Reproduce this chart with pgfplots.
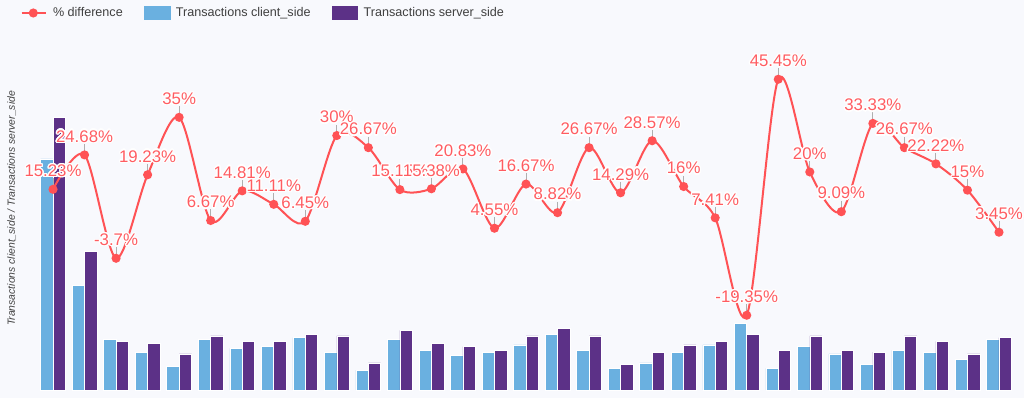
\documentclass[border=0pt]{standalone}
\usepackage{fontspec}
\setmainfont{Liberation Sans}
\usepackage{pgfplots}
\pgfplotsset{compat=1.18}
\usepackage{pgfplotstable}
\usepackage[copies]{contour}
\contourlength{1.3pt}
\contournumber{20}
\definecolor{bg}{RGB}{248,249,253}
\definecolor{cblue}{RGB}{106,176,224}
\definecolor{spurple}{RGB}{92,49,135}
\definecolor{lred}{RGB}{255,82,85}
\definecolor{tred}{RGB}{255,92,97}
\definecolor{legtext}{RGB}{64,64,64}
\definecolor{tickgray}{RGB}{175,175,175}
\pgfdeclareplotmark{vtick}{%
  \pgfpathmoveto{\pgfqpoint{0pt}{4pt}}%
  \pgfpathlineto{\pgfqpoint{0pt}{11pt}}%
  \pgfusepathqstroke}
\pgfplotstableread{
x c s p
0 128 151 15.23
1 58 77 24.68
2 28 27 -3.7
3 21 26 19.23
4 13 20 35
5 28 30 6.67
6 23 27 14.81
7 24 27 11.11
8 29 31 6.45
9 21 30 30
10 11 15 26.67
11 28 33 15.15
12 22 26 15.38
13 19 24 20.83
14 21 22 4.55
15 25 30 16.67
16 31 34 8.82
17 22 30 26.67
18 12 14 14.29
19 15 21 28.57
20 21 25 16
21 25 27 7.41
22 37 31 -19.35
23 12 22 45.45
24 24 30 20
25 20 22 9.09
26 14 21 33.33
27 22 30 26.67
28 21 27 22.22
29 17 20 15
30 28 29 3.45
}\data
\begin{document}
\begin{tikzpicture}
\fill[bg] (0,0) rectangle (1024pt,398pt);
\begin{axis}[at={(37.25pt,8pt)}, anchor=south west, scale only axis,
  width=977.5pt, height=350pt, xmin=-0.5, xmax=30.5, ymin=0, ymax=193.9,
  axis line style={draw=none}, ticks=none, ybar=0pt, bar width=12.4pt, clip=false]
\addplot[fill=cblue, draw=white, line width=0.6pt] table[x=x,y=c]{\data};
\addplot[fill=spurple, draw=white, line width=0.6pt] table[x=x,y=s]{\data};
\node[rotate=90, font=\itshape\fontsize{10.4}{12}\selectfont, text=legtext]
  at ([xshift=-25.5pt]axis description cs:0,0.5186)
  {Transactions client\_side / Transactions server\_side};
\end{axis}
\begin{axis}[at={(37.25pt,8pt)}, anchor=south west, scale only axis,
  width=977.5pt, height=350pt, xmin=-0.5, xmax=30.5, ymin=-39.87, ymax=56.23,
  axis line style={draw=none}, ticks=none, clip=false,
  legend columns=3, legend cell align=left,
  legend style={at={(axis description cs:0,1)}, anchor=west, xshift=-16.55pt, yshift=27pt,
    draw=none, fill=none, inner sep=0pt, outer sep=0pt,
    font=\fontsize{12.6}{14}\selectfont, text=legtext, nodes={inner sep=0pt},
    /tikz/every odd column/.append style={column sep=6pt},
    /tikz/every even column/.append style={column sep=21pt}}]
\addplot[forget plot, tickgray, line width=0.9pt, only marks, mark=vtick] table[x=x,y=p]{\data};
\addplot[lred, line width=2pt, smooth, mark=*, mark size=3.5pt, mark options={fill=lred, draw=lred},
  legend image code/.code={\draw[lred, line width=2pt] (0pt,0pt) -- (24.3pt,0pt); \fill[lred] (11.6pt,0pt) circle (3.5pt);}]
  table[x=x,y=p]{\data};
\addlegendentry{\% difference}
\addlegendimage{legend image code/.code={\fill[cblue] (0pt,-6.6pt) rectangle (25.7pt,6.6pt);}}
\addlegendentry{Transactions client\_side}
\addlegendimage{legend image code/.code={\fill[spurple] (0pt,-6.6pt) rectangle (25.7pt,6.6pt);}}
\addlegendentry{Transactions server\_side}
\addplot[forget plot, draw=none, mark=none, point meta=explicit symbolic,
  nodes near coords={\contour{white}{\pgfplotspointmeta\%}},
  every node near coord/.append style={anchor=base, yshift=12.7pt, inner sep=0pt,
    font=\fontsize{16.8}{18}\selectfont, text=tred}]
  table[x=x,y=p,meta=p]{\data};
\end{axis}
\end{tikzpicture}
\end{document}
